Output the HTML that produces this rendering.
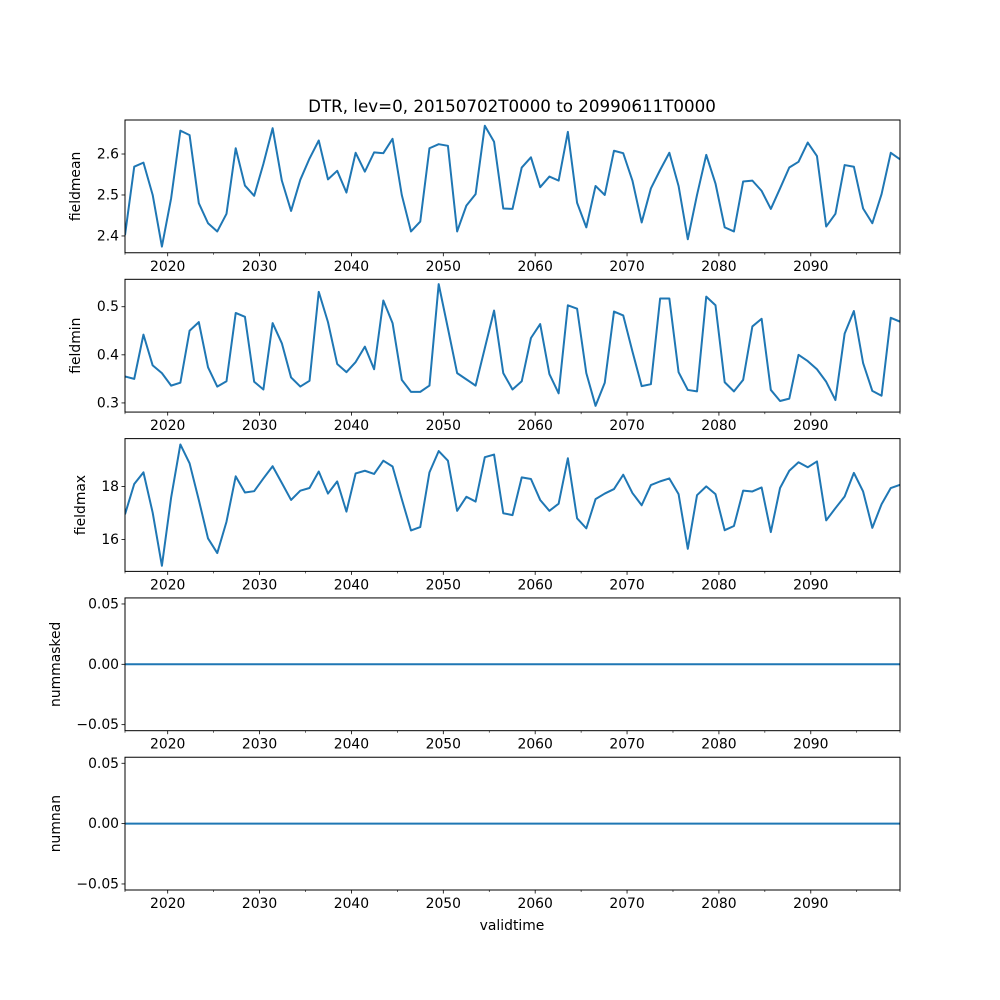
<!DOCTYPE html>
<html><head><meta charset="utf-8"><style>
html,body{margin:0;padding:0;background:#fff;}
svg{display:block;font-family:"DejaVu Sans","Liberation Sans",sans-serif;}
</style></head><body>
<svg id="fig" width="1000" height="1000" viewBox="0 0 1000 1000" xmlns="http://www.w3.org/2000/svg">
<rect width="1000" height="1000" fill="#fff"/>
<text x="512" y="112" font-size="16.7" text-anchor="middle">DTR, lev=0, 20150702T0000 to 20990611T0000</text>
<text x="512" y="930" font-size="13.9" text-anchor="middle">validtime</text>
</svg>
<script>
const fieldmean=[2.402,2.569,2.579,2.5,2.374,2.492,2.657,2.646,2.48,2.431,2.411,2.454,2.614,2.523,2.498,2.576,2.663,2.535,2.461,2.537,2.589,2.633,2.538,2.559,2.506,2.603,2.557,2.604,2.602,2.637,2.5,2.411,2.435,2.614,2.624,2.62,2.411,2.474,2.502,2.669,2.63,2.467,2.466,2.567,2.592,2.519,2.545,2.535,2.654,2.481,2.421,2.522,2.5,2.608,2.602,2.535,2.433,2.516,2.561,2.603,2.522,2.392,2.5,2.598,2.528,2.421,2.411,2.533,2.535,2.51,2.466,2.516,2.567,2.581,2.628,2.595,2.423,2.454,2.573,2.569,2.467,2.431,2.502,2.603,2.587];
const fieldmin=[0.355,0.35,0.442,0.378,0.362,0.336,0.342,0.45,0.468,0.374,0.334,0.345,0.487,0.479,0.344,0.328,0.466,0.424,0.353,0.334,0.346,0.531,0.468,0.381,0.364,0.385,0.417,0.37,0.513,0.466,0.348,0.323,0.323,0.336,0.547,0.455,0.362,0.349,0.336,0.414,0.492,0.362,0.328,0.345,0.435,0.464,0.36,0.32,0.503,0.496,0.362,0.294,0.342,0.49,0.482,0.407,0.335,0.339,0.517,0.517,0.364,0.327,0.324,0.521,0.503,0.343,0.324,0.348,0.459,0.475,0.327,0.304,0.309,0.4,0.387,0.37,0.344,0.306,0.444,0.491,0.383,0.325,0.315,0.477,0.469];
const fieldmax=[16.95,18.09,18.53,17.01,15.01,17.58,19.58,18.87,17.49,16.04,15.49,16.67,18.38,17.77,17.82,18.3,18.76,18.13,17.49,17.84,17.94,18.56,17.73,18.19,17.05,18.49,18.59,18.47,18.97,18.75,17.52,16.34,16.47,18.53,19.33,18.97,17.08,17.61,17.43,19.1,19.2,16.99,16.92,18.34,18.28,17.49,17.08,17.35,19.06,16.8,16.42,17.52,17.73,17.9,18.44,17.75,17.29,18.05,18.19,18.3,17.71,15.65,17.67,18.0,17.71,16.35,16.51,17.84,17.81,17.96,16.28,17.94,18.59,18.91,18.72,18.94,16.72,17.18,17.62,18.51,17.81,16.44,17.33,17.94,18.06];
const nummasked=new Array(85).fill(0);
const numnan=new Array(85).fill(0);
const xTickYears=[2020,2030,2040,2050,2060,2070,2080,2090];
const xMinorYears=[2025,2035,2045,2055,2065,2075,2085,2095];
const ticks1=[2.4,2.5,2.6], ticks2=[0.3,0.4,0.5], ticks3=[16,18], ticks45=[-0.05,0,0.05];

const NS="http://www.w3.org/2000/svg";
const svg=document.getElementById('fig');
const L=125,R=900,H=132.76,GAP=26.55;
function xYear(y){return 167.7+(y-2020)*9.187;}
function xIdx(i,n){return L+(R-L)*i/(n-1);}
function mk(tag,attrs){const e=document.createElementNS(NS,tag);for(const k in attrs)e.setAttribute(k,attrs[k]);svg.appendChild(e);return e;}
const panels=[
 {name:'fieldmean',data:fieldmean,lo:2.359,hi:2.683,ticks:ticks1,fmt:v=>v.toFixed(1),lx:80},
 {name:'fieldmin',data:fieldmin,lo:0.281,hi:0.557,ticks:ticks2,fmt:v=>v.toFixed(1),lx:80},
 {name:'fieldmax',data:fieldmax,lo:14.8,hi:19.8,ticks:ticks3,fmt:v=>String(v),lx:85},
 {name:'nummasked',data:nummasked,lo:-0.055,hi:0.055,ticks:ticks45,fmt:v=>(v<0?'\u22120.05':v.toFixed(2)),lx:60},
 {name:'numnan',data:numnan,lo:-0.055,hi:0.055,ticks:ticks45,fmt:v=>(v<0?'\u22120.05':v.toFixed(2)),lx:60}
];
panels.forEach((p,k)=>{
 const top=120+k*(H+GAP), bot=top+H;
 const yS=v=>bot-(v-p.lo)/(p.hi-p.lo)*H;
 let d='';
 p.data.forEach((v,i)=>{d+=(i?'L':'M')+xIdx(i,p.data.length).toFixed(2)+','+yS(v).toFixed(2);});
 const clip=mk('clipPath',{id:'c'+k});
 const cr=document.createElementNS(NS,'rect');cr.setAttribute('x',L);cr.setAttribute('y',top);cr.setAttribute('width',R-L);cr.setAttribute('height',H);clip.appendChild(cr);
 const line=mk('path',{d:d,fill:'none',stroke:'#1f77b4','stroke-width':2,'stroke-linejoin':'round','clip-path':'url(#c'+k+')'});
 
 
 const fr=mk('rect',{x:L,y:top,width:R-L,height:H,fill:'none',stroke:'#000','stroke-width':1});
 
 
 p.ticks.forEach(t=>{
  const y=yS(t);
  mk('line',{x1:L-3.5,x2:L,y1:y,y2:y,stroke:'#000','stroke-width':0.8});
  const tx=mk('text',{x:L-6,y:y+4.5,'font-size':13.9,'text-anchor':'end'});
  tx.textContent=p.fmt(t);
  
  
 });
 xTickYears.forEach(yr=>{
  const x=xYear(yr);
  mk('line',{x1:x,x2:x,y1:bot,y2:bot+3.5,stroke:'#000','stroke-width':0.8});
  const tx=mk('text',{x:x,y:bot+18,'font-size':13.9,'text-anchor':'middle'});
  tx.textContent=String(yr);
  
  
 });
 xMinorYears.forEach(yr=>{
  const x=xYear(yr);
  mk('line',{x1:x,x2:x,y1:bot,y2:bot+2,stroke:'#000','stroke-width':0.6});
 });
 [L,R].forEach(x=>mk('line',{x1:x,x2:x,y1:bot,y2:bot+2,stroke:'#000','stroke-width':0.6}));
 const yl=mk('text',{x:p.lx,y:(top+bot)/2,'font-size':13.9,'text-anchor':'middle',transform:'rotate(-90 '+p.lx+' '+((top+bot)/2)+')'});
 yl.textContent=p.name;
 
 
});
</script>
</body></html>
